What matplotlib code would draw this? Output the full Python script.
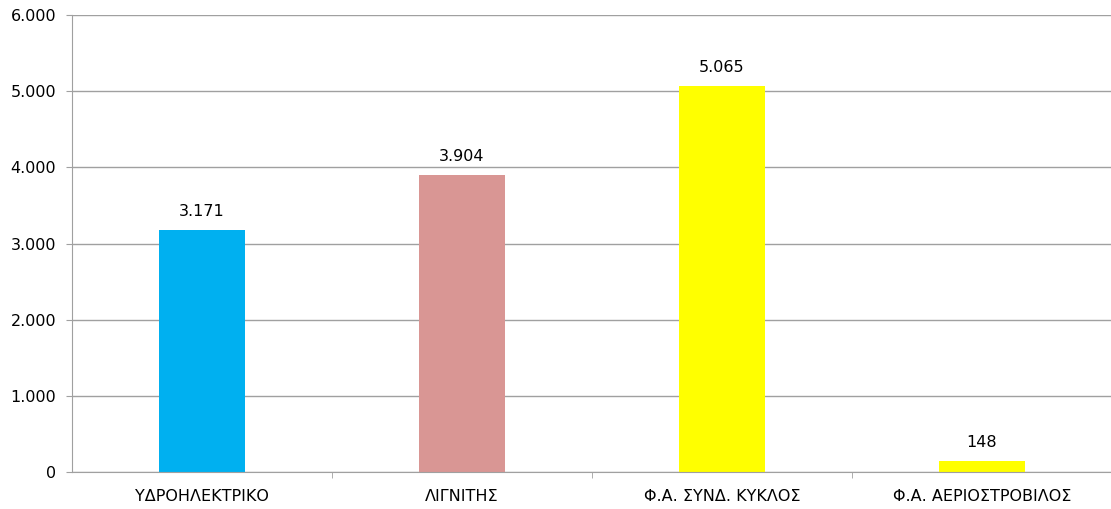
import matplotlib
matplotlib.use("Agg")
import matplotlib.pyplot as plt
from matplotlib.ticker import FuncFormatter

categories = ["ΥΔΡΟΗΛΕΚΤΡΙΚΟ", "ΛΙΓΝΙΤΗΣ", "Φ.Α. ΣΥΝΔ. ΚΥΚΛΟΣ", "Φ.Α. ΑΕΡΙΟΣΤΡΟΒΙΛΟΣ"]
values = [3171, 3904, 5065, 148]
colors = ["#00B0F0", "#D99694", "#FFFF00", "#FFFF00"]
yticks = [0, 1000, 2000, 3000, 4000, 5000, 6000]


def fmt(v, pos=None):
    return f"{int(v):,}".replace(",", ".")


def main():
    W, H = 1111, 509
    fs = 11.5
    fig = plt.figure(figsize=(W / 100, H / 100), dpi=100)
    ax = fig.add_axes([72 / W, (H - 472) / H, 1040 / W, (472 - 15) / H])

    x = list(range(len(categories)))
    bars = ax.bar(x, values, width=0.33, color=colors, zorder=3)
    for b, v in zip(bars, values):
        ax.annotate(fmt(v), (b.get_x() + b.get_width() / 2, v),
                    xytext=(0, 8), textcoords="offset points",
                    ha="center", va="bottom", fontsize=fs, color="black")

    ax.set_xlim(-0.5, len(categories) - 0.5)
    ax.set_ylim(0, 6000)
    ax.set_yticks(yticks)
    ax.yaxis.set_major_formatter(FuncFormatter(fmt))
    ax.grid(axis="y", color="#A0A0A0", linewidth=1, zorder=0)

    # category labels in the middle, tick marks on the boundaries
    ax.set_xticks(x)
    ax.set_xticklabels(categories)
    ax.tick_params(axis="x", which="major", length=0, pad=12, labelsize=fs)
    ax.set_xticks([i + 0.5 for i in x[:-1]], minor=True)
    ax.tick_params(axis="x", which="minor", length=4, color="#A0A0A0", direction="out")
    ax.tick_params(axis="y", length=4.5, color="#A0A0A0", labelsize=fs, pad=7)

    for s in ["top", "right"]:
        ax.spines[s].set_visible(False)
    for s in ["left", "bottom"]:
        ax.spines[s].set_color("#A0A0A0")
        ax.spines[s].set_zorder(4)

    fig.savefig("out.png", dpi=100)


if __name__ == "__main__":
    main()
